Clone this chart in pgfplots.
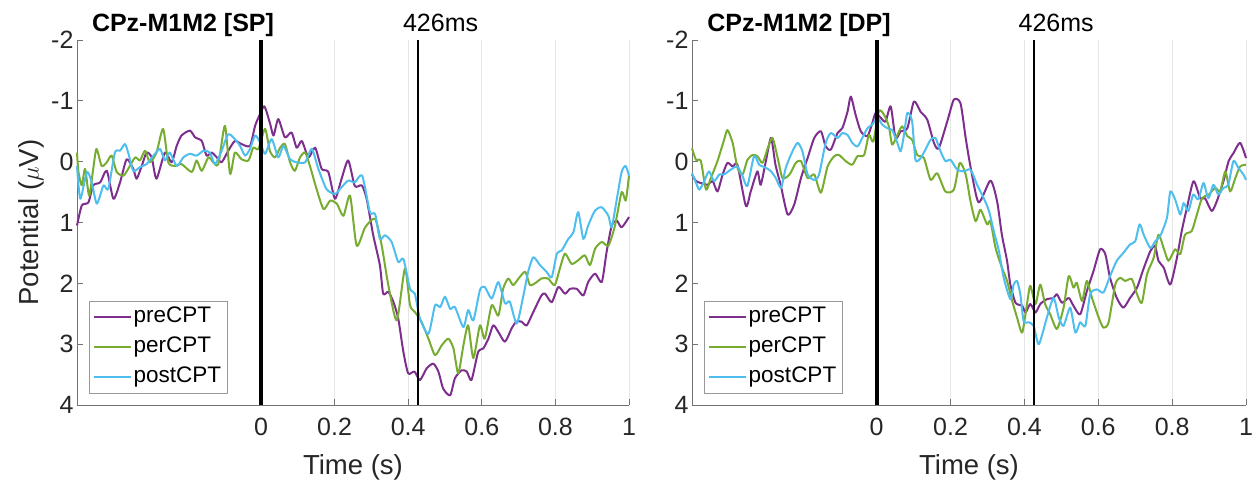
\documentclass[border=0pt]{standalone}
\usepackage{fontspec}
\setmainfont{Liberation Sans}
\usepackage{pgfplots}
\pgfplotsset{compat=1.18}
\definecolor{cpre}{rgb}{0.494,0.184,0.556}
\definecolor{cper}{rgb}{0.466,0.674,0.188}
\definecolor{cpost}{rgb}{0.301,0.745,0.933}
\definecolor{axgray}{rgb}{0.15,0.15,0.15}
\tikzset{
 ttl/.style={font=\bfseries\fontsize{25}{30}\selectfont, anchor=base},
 msl/.style={font=\fontsize{25}{30}\selectfont, anchor=base},
}
\pgfplotsset{
 eegaxis/.style={
  scale only axis, height=365pt,
  xmin=-0.5, xmax=1, ymin=-2, ymax=4, y dir=reverse,
  axis x line*=bottom, axis y line*=left,
  axis line style={black!55, line width=0.8pt, -},
  xtick={0,0.2,0.4,0.6,0.8,1}, xticklabels={0,0.2,0.4,0.6,0.8,1},
  ytick={-2,-1,0,1,2,3,4}, yticklabels={-2,-1,0,1,2,3,4},
  tick align=inside, major tick length=6pt,
  tick style={black!55, line width=0.8pt},
  xmajorgrids, grid style={black!10, line width=0.8pt},
  ticklabel style={font=\fontsize{25}{30}\selectfont, text=axgray},
  xticklabel style={yshift=-10pt},
  xlabel={Time (s)}, label style={font=\fontsize{27.5}{33}\selectfont, text=axgray},
  xlabel style={yshift=-11pt},
  legend style={at={(axis description cs:0.0217,0.033)}, anchor=south west,
    draw=black!40, fill=white, font=\fontsize{22.5}{27}\selectfont,
    inner sep=4pt, row sep=6pt,
    nodes={inner sep=1.5pt, text height=16pt, text depth=5pt}},
  legend cell align=left,
  legend image code/.code={\draw[#1] (0pt,0pt) -- (37pt,0pt);},
  every axis plot/.append style={line width=2pt, line join=round},
  clip=false,
 },
}
\begin{document}
\begin{tikzpicture}
\useasboundingbox (0,0) rectangle (1254pt,480pt);
% ---------------- SP ----------------
\begin{axis}[eegaxis, width=552pt, at={(77pt,75pt)}, anchor=south west,
  ylabel={Potential ($\mu$V)}]
\addplot[cpre, smooth, tension=0.4] coordinates {(-0.5,1.05) (-0.487,0.72) (-0.469,0.67) (-0.456,0.39) (-0.437,0.34) (-0.419,0.15) (-0.401,0.61) (-0.383,0.34) (-0.365,-0.04) (-0.347,0.12) (-0.338,0.28) (-0.324,0.07) (-0.311,-0.15) (-0.297,-0.07) (-0.284,0.28) (-0.261,-0.15) (-0.243,0.01) (-0.229,-0.26) (-0.216,-0.43) (-0.193,-0.51) (-0.179,-0.40) (-0.161,-0.34) (-0.148,-0.10) (-0.134,-0.15) (-0.120,-0.07) (-0.107,0.01) (-0.089,-0.18) (-0.071,-0.34) (-0.053,-0.29) (-0.030,-0.26) (-0.016,-0.59) (-0.005,-0.75) (0.009,-0.91) (0.024,-0.64) (0.034,-0.43) (0.047,-0.70) (0.065,-0.40) (0.083,-0.48) (0.097,-0.23) (0.111,-0.34) (0.129,-0.07) (0.147,-0.23) (0.165,0.12) (0.183,0.17) (0.201,0.61) (0.219,0.28) (0.237,-0.02) (0.255,0.40) (0.274,0.39) (0.287,0.61) (0.305,1.21) (0.323,1.70) (0.332,2.17) (0.346,2.14) (0.360,2.31) (0.373,2.58) (0.387,3.13) (0.400,3.48) (0.417,3.45) (0.432,3.59) (0.450,3.40) (0.468,3.32) (0.482,3.45) (0.495,3.73) (0.514,3.84) (0.527,3.56) (0.545,3.43) (0.559,3.45) (0.572,3.59) (0.590,3.13) (0.604,3.07) (0.618,2.91) (0.631,2.69) (0.645,2.80) (0.663,2.96) (0.681,2.74) (0.694,2.63) (0.708,2.63) (0.722,2.69) (0.740,2.47) (0.762,2.20) (0.772,2.17) (0.790,2.31) (0.808,2.06) (0.826,2.17) (0.840,2.09) (0.858,2.09) (0.876,2.20) (0.889,1.98) (0.908,1.84) (0.926,1.98) (0.939,1.49) (0.953,1.05) (0.967,0.97) (0.980,1.08) (1.000,0.91)};
\addlegendentry{preCPT}
\addplot[cper, smooth, tension=0.4] coordinates {(-0.5,-0.15) (-0.496,0.17) (-0.487,0.39) (-0.478,0.12) (-0.467,0.56) (-0.456,0.12) (-0.447,-0.21) (-0.433,0.07) (-0.419,0.01) (-0.406,-0.10) (-0.392,0.17) (-0.374,0.23) (-0.361,0.12) (-0.342,-0.07) (-0.329,-0.02) (-0.315,-0.18) (-0.302,0.01) (-0.284,-0.15) (-0.266,-0.54) (-0.252,0.01) (-0.234,0.07) (-0.216,0.04) (-0.188,0.17) (-0.175,-0.02) (-0.161,0.15) (-0.143,-0.07) (-0.130,0.01) (-0.116,0.04) (-0.098,-0.59) (-0.084,0.20) (-0.071,-0.15) (-0.053,-0.04) (-0.034,-0.02) (-0.021,-0.23) (-0.007,-0.21) (0.011,-0.54) (0.024,-0.18) (0.038,-0.07) (0.052,-0.23) (0.065,-0.29) (0.079,0.01) (0.092,0.15) (0.106,-0.07) (0.120,-0.15) (0.133,0.07) (0.151,0.45) (0.170,0.78) (0.188,0.64) (0.206,0.69) (0.224,0.89) (0.242,0.56) (0.260,1.38) (0.283,1.08) (0.310,0.94) (0.328,1.38) (0.346,2.03) (0.369,2.61) (0.391,1.76) (0.405,2.36) (0.418,2.47) (0.436,2.63) (0.455,2.91) (0.473,3.18) (0.491,3.02) (0.509,2.91) (0.523,3.07) (0.536,3.48) (0.550,3.02) (0.563,2.69) (0.577,3.23) (0.595,2.69) (0.608,2.91) (0.627,2.36) (0.645,2.53) (0.658,2.09) (0.672,1.92) (0.685,2.03) (0.700,1.92) (0.718,1.81) (0.731,2.03) (0.749,1.98) (0.762,1.92) (0.780,1.92) (0.798,2.03) (0.812,1.76) (0.826,1.51) (0.844,1.68) (0.862,1.62) (0.880,1.54) (0.894,1.70) (0.908,1.43) (0.926,1.32) (0.944,1.38) (0.962,1.05) (0.980,0.50) (0.991,0.64) (1.000,0.23)};
\addlegendentry{perCPT}
\addplot[cpost, smooth, tension=0.4] coordinates {(-0.5,0.07) (-0.491,0.61) (-0.473,0.17) (-0.460,0.34) (-0.446,0.69) (-0.428,0.39) (-0.415,0.45) (-0.397,-0.15) (-0.383,-0.18) (-0.370,-0.29) (-0.361,-0.15) (-0.347,0.15) (-0.329,0.09) (-0.311,0.04) (-0.288,-0.13) (-0.274,-0.21) (-0.261,-0.02) (-0.248,-0.15) (-0.229,0.07) (-0.211,-0.07) (-0.193,-0.13) (-0.175,-0.10) (-0.156,-0.18) (-0.139,-0.15) (-0.125,0.04) (-0.107,-0.18) (-0.089,-0.45) (-0.071,-0.37) (-0.057,-0.26) (-0.043,-0.10) (-0.030,-0.21) (-0.016,-0.43) (-0.003,-0.32) (0.011,-0.13) (0.029,-0.37) (0.047,-0.07) (0.061,-0.26) (0.079,-0.04) (0.097,0.01) (0.120,0.01) (0.138,-0.21) (0.156,0.12) (0.178,0.45) (0.201,0.53) (0.219,0.42) (0.237,0.31) (0.255,0.34) (0.275,0.23) (0.296,0.83) (0.310,0.86) (0.323,1.27) (0.337,1.21) (0.355,1.32) (0.373,1.65) (0.387,1.60) (0.405,2.09) (0.418,2.17) (0.432,2.58) (0.455,2.83) (0.473,2.36) (0.487,2.39) (0.500,2.22) (0.514,2.42) (0.527,2.39) (0.550,2.72) (0.563,2.44) (0.577,2.61) (0.595,2.11) (0.608,2.06) (0.627,2.25) (0.645,1.98) (0.663,2.33) (0.676,2.30) (0.695,2.66) (0.713,2.20) (0.726,1.81) (0.740,1.57) (0.758,1.70) (0.776,1.81) (0.790,1.90) (0.804,1.51) (0.817,1.46) (0.835,1.27) (0.849,1.16) (0.862,0.83) (0.876,1.27) (0.889,1.05) (0.908,0.80) (0.926,0.75) (0.944,0.89) (0.953,1.08) (0.967,0.61) (0.980,0.17) (0.991,0.07) (1.000,0.23)};
\addlegendentry{postCPT}
\addplot[black, line width=1.5pt, forget plot] coordinates {(0.426,-2) (0.426,4)};
\addplot[black, line width=4pt, forget plot] coordinates {(0,-2) (0,4)};
\node[ttl] at ([yshift=9pt]axis cs:-0.212,-2) {CPz-M1M2 [SP]};
\node[msl] at ([yshift=9pt]axis cs:0.488,-2) {426ms};
\end{axis}
% ---------------- DP ----------------
\begin{axis}[eegaxis, width=554pt, at={(692pt,75pt)}, anchor=south west]
\addplot[cpre, smooth, tension=0.4] coordinates {(-0.5,0.21) (-0.489,0.32) (-0.476,0.35) (-0.458,0.38) (-0.444,0.32) (-0.431,0.49) (-0.417,0.21) (-0.404,0.02) (-0.390,0.08) (-0.377,0.05) (-0.354,0.73) (-0.341,0.49) (-0.323,0.16) (-0.314,0.38) (-0.300,-0.01) (-0.286,-0.39) (-0.274,0.05) (-0.260,0.38) (-0.241,0.87) (-0.223,0.70) (-0.205,0.27) (-0.187,-0.06) (-0.169,-0.39) (-0.151,-0.50) (-0.138,-0.25) (-0.124,-0.20) (-0.106,-0.47) (-0.093,-0.55) (-0.079,-0.82) (-0.070,-1.07) (-0.057,-0.77) (-0.043,-0.50) (-0.025,-0.42) (-0.012,-0.63) (-0.003,-0.80) (0.011,-0.72) (0.024,-0.66) (0.038,-0.91) (0.051,-0.39) (0.065,-0.50) (0.083,-0.55) (0.101,-0.99) (0.119,-0.82) (0.137,-0.69) (0.155,-0.31) (0.168,-0.22) (0.191,-0.66) (0.209,-1.02) (0.227,-0.96) (0.241,-0.39) (0.254,0.08) (0.276,0.67) (0.308,0.31) (0.326,0.65) (0.339,1.20) (0.353,1.63) (0.362,2.02) (0.376,2.32) (0.394,2.37) (0.403,2.48) (0.416,2.34) (0.430,2.48) (0.443,2.34) (0.461,2.26) (0.479,2.24) (0.488,2.18) (0.502,2.32) (0.520,2.24) (0.533,2.37) (0.551,2.51) (0.569,2.13) (0.587,1.80) (0.605,1.44) (0.619,1.52) (0.632,1.91) (0.650,2.24) (0.668,2.40) (0.686,2.24) (0.705,2.07) (0.722,1.77) (0.741,1.47) (0.754,1.39) (0.763,1.63) (0.777,1.74) (0.795,2.02) (0.813,1.58) (0.826,1.14) (0.840,0.76) (0.858,0.32) (0.876,0.60) (0.889,0.60) (0.907,0.81) (0.921,0.65) (0.939,0.32) (0.953,-0.01) (0.966,-0.14) (0.984,-0.31) (1.000,-0.06)};
\addlegendentry{preCPT}
\addplot[cper, smooth, tension=0.4] coordinates {(-0.5,-0.22) (-0.489,-0.03) (-0.476,-0.01) (-0.462,0.46) (-0.449,0.27) (-0.431,-0.01) (-0.413,-0.36) (-0.404,-0.52) (-0.390,-0.31) (-0.377,0.10) (-0.363,0.21) (-0.350,-0.03) (-0.336,-0.11) (-0.323,-0.09) (-0.309,0.02) (-0.295,-0.22) (-0.282,-0.39) (-0.268,-0.06) (-0.255,0.27) (-0.236,0.21) (-0.219,0.02) (-0.205,-0.01) (-0.187,0.27) (-0.169,0.21) (-0.151,0.51) (-0.133,0.08) (-0.115,-0.09) (-0.102,-0.11) (-0.084,-0.01) (-0.066,0.05) (-0.052,-0.09) (-0.034,-0.11) (-0.021,-0.44) (-0.009,-0.33) (0.006,-0.83) (0.020,-0.77) (0.033,-0.58) (0.042,-0.28) (0.056,-0.44) (0.069,-0.58) (0.083,-0.42) (0.096,-0.36) (0.110,-0.11) (0.128,-0.06) (0.146,0.30) (0.164,0.19) (0.186,0.49) (0.209,0.46) (0.225,0.02) (0.241,0.21) (0.254,0.65) (0.268,0.98) (0.281,0.79) (0.299,1.03) (0.308,0.98) (0.322,1.42) (0.339,1.74) (0.353,1.96) (0.367,2.29) (0.380,2.56) (0.394,2.81) (0.407,2.34) (0.416,2.04) (0.430,2.34) (0.443,2.02) (0.456,2.34) (0.470,2.51) (0.488,2.75) (0.506,2.40) (0.520,1.88) (0.533,2.07) (0.542,1.99) (0.556,2.29) (0.569,1.96) (0.583,2.24) (0.601,2.56) (0.614,2.73) (0.628,2.64) (0.646,2.02) (0.659,1.91) (0.673,1.96) (0.691,1.93) (0.705,2.18) (0.718,2.32) (0.732,1.85) (0.750,1.58) (0.763,1.20) (0.777,1.42) (0.790,1.63) (0.808,1.44) (0.822,1.52) (0.835,1.20) (0.853,1.14) (0.867,0.87) (0.881,0.60) (0.899,0.54) (0.917,0.43) (0.930,0.49) (0.944,0.16) (0.957,0.49) (0.971,0.27) (0.984,0.08) (1.000,0.05)};
\addlegendentry{perCPT}
\addplot[cpost, smooth, tension=0.4] coordinates {(-0.5,0.19) (-0.489,0.35) (-0.480,0.46) (-0.467,0.32) (-0.454,0.16) (-0.440,0.32) (-0.426,0.21) (-0.413,0.21) (-0.395,0.13) (-0.377,0.08) (-0.363,0.24) (-0.350,0.40) (-0.332,-0.09) (-0.318,0.05) (-0.300,0.10) (-0.286,0.16) (-0.273,0.27) (-0.259,0.43) (-0.246,0.10) (-0.228,-0.17) (-0.214,-0.31) (-0.201,-0.17) (-0.187,0.21) (-0.169,0.30) (-0.156,0.21) (-0.138,-0.31) (-0.124,-0.47) (-0.106,-0.39) (-0.093,-0.47) (-0.079,-0.44) (-0.066,-0.31) (-0.052,-0.25) (-0.039,-0.39) (-0.025,-0.55) (-0.012,-0.61) (0.002,-0.72) (0.015,-0.61) (0.029,-0.55) (0.042,-0.52) (0.056,-0.31) (0.065,-0.17) (0.074,-0.44) (0.083,-0.80) (0.096,-0.66) (0.105,-0.03) (0.119,-0.06) (0.132,-0.20) (0.146,-0.36) (0.159,-0.39) (0.173,-0.17) (0.186,-0.01) (0.200,-0.03) (0.218,0.13) (0.236,0.16) (0.254,0.13) (0.272,0.38) (0.290,0.60) (0.304,0.81) (0.317,1.14) (0.331,1.47) (0.344,1.91) (0.362,2.26) (0.371,2.02) (0.380,1.96) (0.389,2.18) (0.398,2.62) (0.412,2.64) (0.425,2.70) (0.439,3.00) (0.461,2.56) (0.479,2.24) (0.493,2.56) (0.506,2.70) (0.524,2.40) (0.538,2.81) (0.551,2.64) (0.565,2.70) (0.578,2.18) (0.596,2.10) (0.614,2.15) (0.632,1.88) (0.650,1.63) (0.668,1.50) (0.686,1.36) (0.700,1.31) (0.712,1.03) (0.723,1.20) (0.741,1.42) (0.754,1.31) (0.768,1.22) (0.786,0.92) (0.795,0.49) (0.808,0.62) (0.822,0.87) (0.831,0.68) (0.844,0.81) (0.857,0.54) (0.871,0.62) (0.885,0.35) (0.898,0.60) (0.912,0.38) (0.925,0.54) (0.939,0.43) (0.952,0.38) (0.966,-0.01) (0.979,0.10) (0.993,0.21) (1.000,0.30)};
\addlegendentry{postCPT}
\addplot[black, line width=1.5pt, forget plot] coordinates {(0.426,-2) (0.426,4)};
\addplot[black, line width=4pt, forget plot] coordinates {(0,-2) (0,4)};
\node[ttl] at ([yshift=9pt]axis cs:-0.21,-2) {CPz-M1M2 [DP]};
\node[msl] at ([yshift=9pt]axis cs:0.486,-2) {426ms};
\end{axis}
\end{tikzpicture}
\end{document}
